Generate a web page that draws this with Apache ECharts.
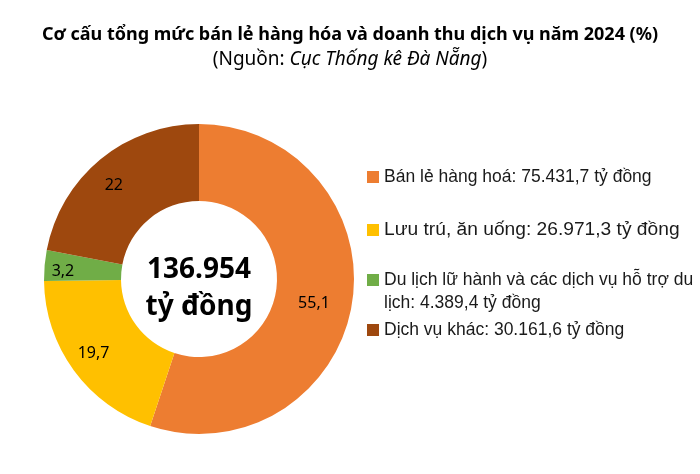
<!DOCTYPE html>
<html>
<head>
<meta charset="utf-8">
<script src="https://cdn.jsdelivr.net/npm/echarts@6/dist/echarts.min.js"></script>
<style>
  html, body { margin: 0; padding: 0; background: #fff; }
  #chart { width: 700px; height: 474px; }
</style>
</head>
<body>
<div id="chart"></div>
<script>
// Du lieu doc tu hinh
var categories = [
    'Bán lẻ hàng hoá: 75.431,7 tỷ đồng',
    'Lưu trú, ăn uống: 26.971,3 tỷ đồng',
    'Du lịch lữ hành và các dịch vụ hỗ trợ du\nlịch: 4.389,4 tỷ đồng',
    'Dịch vụ khác: 30.161,6 tỷ đồng'
];
var shares = [55.1, 19.7, 3.2, 22];
var totalText = '136.954\ntỷ đồng';

var colors = ['#ED7D31', '#FFC000', '#70AD47', '#9E480E'];
var legendTops = [165.5, 218.5, 245.5, 318.5];
var legendFont = [17.5, 19.2, 17.5, 17.5];
var labelOffsets = [[-3, 5], [-9, 4], [-17, 3], [-9, -1]];

var chart = echarts.init(document.getElementById('chart'));

var legends = categories.map(function (name, i) {
    var multi = name.indexOf('\n') >= 0;
    return {
        data: [name],
        orient: 'vertical',
        left: 367,
        top: legendTops[i],
        padding: 0,
        icon: 'rect',
        itemWidth: 12,
        itemHeight: 12,
        selectedMode: false,
        // dong dau tien canh voi o mau
        formatter: function (n) { return multi ? '\n' + n : n; },
        textStyle: {
            fontFamily: '"Liberation Sans", Arial, sans-serif',
            fontSize: legendFont[i],
            color: '#1a1a1a',
            lineHeight: 23
        }
    };
});

var option = {
    color: colors,
    title: [
        {
            text: 'Cơ cấu tổng mức bán lẻ hàng hóa và doanh thu dịch vụ năm 2024 (%)',
            left: 'center',
            top: 21,
            textStyle: { fontFamily: '"Noto Sans", sans-serif', fontSize: 18, fontWeight: 'bold', color: '#000' }
        },
        {
            text: '(Nguồn: {i|Cục Thống kê Đà Nẵng})',
            left: 'center',
            top: 45,
            textStyle: {
                fontFamily: '"Noto Sans", sans-serif', fontSize: 19, fontWeight: 'normal', color: '#000',
                rich: {
                    i: { fontFamily: '"Noto Sans", sans-serif', fontSize: 19, fontStyle: 'italic', color: '#000' }
                }
            }
        }
    ],
    legend: legends,
    graphic: [{
        type: 'text',
        x: 199,
        y: 289,
        style: {
            text: totalText,
            align: 'center',
            verticalAlign: 'middle',
            fontFamily: '"Noto Sans", sans-serif',
            fontSize: 28,
            fontWeight: 'bold',
            lineHeight: 37,
            fill: '#000'
        }
    }],
    series: [{
        type: 'pie',
        center: [199, 279],
        radius: [78, 155],
        startAngle: 90,
        clockwise: true,
        silent: true,
        label: {
            show: true,
            position: 'inside',
            fontFamily: '"Noto Sans", sans-serif',
            fontSize: 16,
            color: '#000',
            formatter: function (p) {
                return String(p.value).replace('.', ',');
            }
        },
        labelLine: { show: false },
        data: categories.map(function (name, i) {
            return {
                name: name,
                value: shares[i],
                label: { offset: labelOffsets[i] }
            };
        })
    }]
};

chart.setOption(option);
</script>
</body>
</html>
